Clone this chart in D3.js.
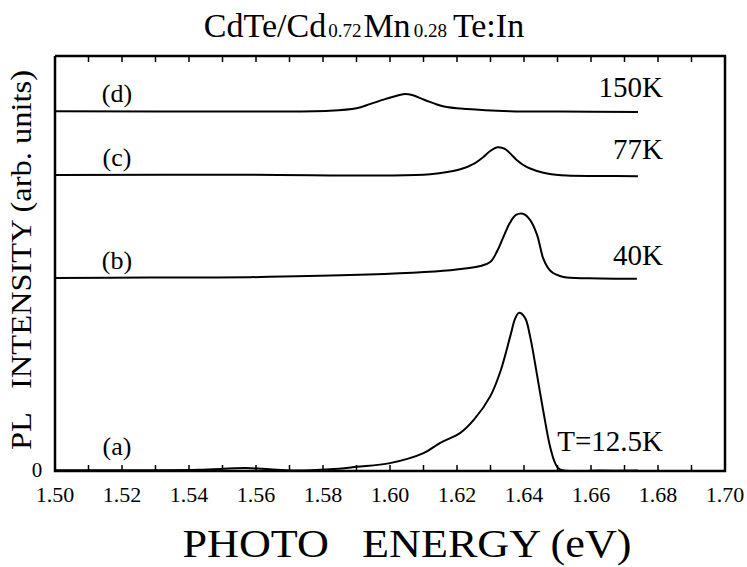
<!DOCTYPE html>
<html>
<head>
<meta charset="utf-8">
<script src="https://cdn.jsdelivr.net/npm/d3@7"></script>
<style>
  body { margin: 0; background: #fff; }
  svg { display: block; }
  svg text { font-family: "Liberation Serif", "Times New Roman", serif; fill: #000; white-space: pre; }
</style>
</head>
<body>
<div class="chart"></div>
<script>
var svgWidth = 747;
var svgHeight = 567;

// plot box in page pixels
var margin = { top: 56, right: 22, bottom: 96, left: 55 };
var width = svgWidth - margin.left - margin.right;
var height = svgHeight - margin.top - margin.bottom;

// (a) T=12.5K
var energyA = [1.500, 1.528, 1.543, 1.557, 1.564, 1.571, 1.582, 1.590, 1.600, 1.610, 1.615, 1.621, 1.625,
  1.630, 1.633, 1.636, 1.6373, 1.6385, 1.6403, 1.6418, 1.6439, 1.6457, 1.6478, 1.6493, 1.6507, 1.6627, 1.674];
var intensityA = [0.2, 0.2, 0.3, 0.7, 0.4, 0.1, 0.4, 1.0, 1.9, 4.3, 6.8, 9.2, 12.3,
  18.1, 24.1, 32.8, 36.6, 38.1, 36.9, 32.5, 23.1, 14.7, 5.8, 1.9, 0.4, 0.1, 0.1];

// (b) 40K
var energyB = [1.500, 1.528, 1.558, 1.588, 1.618, 1.627, 1.630, 1.632, 1.6337, 1.6358, 1.6376, 1.6397,
  1.6418, 1.6439, 1.6457, 1.6472, 1.6487, 1.6507, 1.6528, 1.6627, 1.6737];
var intensityB = [0, 0.1, 0.2, 0.7, 1.9, 2.9, 3.9, 6.5, 9.6, 13.3, 15.2, 15.5,
  14.0, 10.4, 4.8, 2.4, 1.2, 0.5, 0.1, -0.1, -0.2];

// (c) 77K
var energyC = [1.500, 1.558, 1.597, 1.612, 1.621, 1.6254, 1.6278, 1.6299, 1.6322, 1.6343, 1.6364,
  1.6379, 1.6409, 1.6439, 1.6469, 1.6528, 1.6627, 1.674];
var intensityC = [0, 0.1, -0.1, 0.2, 1.4, 2.9, 4.3, 5.8, 6.7, 6.3, 4.8,
  3.6, 1.9, 1.0, 0.4, -0.1, -0.2, -0.3];

// (d) 150K
var energyD = [1.500, 1.558, 1.582, 1.590, 1.594, 1.5985, 1.6015, 1.6039, 1.6066, 1.6104, 1.6158,
  1.623, 1.6358, 1.6507, 1.674];
var intensityD = [0, -0.1, 0.1, 0.7, 1.7, 2.9, 3.6, 4.1, 3.9, 2.7, 1.2,
  0.5, 0, -0.1, -0.2];

var curveNames = ["(a)", "(b)", "(c)", "(d)"];
var tempLabels = ["T=12.5K", "40K", "77K", "150K"];
var curveOffsets = [0, 46.5, 71.3, 86.7];

var xTicks = [1.50, 1.52, 1.54, 1.56, 1.58, 1.60, 1.62, 1.64, 1.66, 1.68, 1.70];

var series = [
  { e: energyA, v: intensityA },
  { e: energyB, v: intensityB },
  { e: energyC, v: intensityC },
  { e: energyD, v: intensityD }
];

var serif = "'Liberation Serif', 'Times New Roman', serif";

var svg = d3.select(".chart")
  .append("svg")
  .attr("width", svgWidth)
  .attr("height", svgHeight)
  .attr("font-family", serif);

var chart = svg.append("g")
  .attr("transform", "translate(" + margin.left + "," + margin.top + ")");

var xScale = d3.scaleLinear().domain([1.50, 1.70]).range([0, width]);
var yScale = d3.scaleLinear().domain([0, 100]).range([height, 0]);

var line = d3.line()
  .curve(d3.curveCatmullRom.alpha(0.5));

series.forEach(function(s, i) {
  var pts = s.e.map(function(e, j) {
    return [xScale(e), yScale(s.v[j] + curveOffsets[i])];
  });
  chart.append("path")
    .attr("d", line(pts))
    .attr("fill", "none")
    .attr("stroke", "#000")
    .attr("stroke-width", 2);
});

// frame box from the scale extents
var x0 = xScale(1.50), x1 = xScale(1.70), y0 = yScale(0), y1 = yScale(100);
chart.append("path")
  .attr("d", d3.line()([[x0, y1], [x1, y1], [x1, y0], [x0, y0], [x0, y1]]))
  .attr("fill", "none")
  .attr("stroke", "#000")
  .attr("stroke-width", 2.5);

// inward ticks every 0.01 on top and bottom
var minor = d3.range(1.50, 1.7001, 0.01);
var tickPath = minor.map(function(e) {
  var x = xScale(e);
  return "M" + x + "," + y0 + "V" + (y0 - 6) + "M" + x + "," + y1 + "V" + (y1 + 6);
}).join("");
chart.append("path")
  .attr("d", tickPath)
  .attr("fill", "none")
  .attr("stroke", "#000")
  .attr("stroke-width", 1.5);

// tick labels
chart.selectAll(".xlab")
  .data(xTicks)
  .enter().append("text")
    .attr("class", "xlab")
    .attr("x", function(d) { return xScale(d); })
    .attr("y", height + 31)
    .attr("text-anchor", "middle")
    .attr("font-family", serif)
    .style("font-size", "22px")
    .text(function(d) { return d3.format(".2f")(d); });

chart.append("text")
  .attr("x", -18)
  .attr("y", yScale(0) + 6)
  .attr("text-anchor", "middle")
  .attr("font-family", serif)
  .style("font-size", "21px")
  .text("0");

// curve labels
var nameY = [-16, -9, -9, -9];
chart.selectAll(".cname")
  .data(curveNames)
  .enter().append("text")
    .attr("class", "cname")
    .attr("x", xScale(1.5185))
    .attr("y", function(d, i) { return yScale(curveOffsets[i]) + nameY[i]; })
    .attr("text-anchor", "middle")
    .attr("font-family", serif)
    .style("font-size", "26px")
    .text(function(d) { return d; });

var tempY = [-20, -13, -16, -14];
chart.selectAll(".tlab")
  .data(tempLabels)
  .enter().append("text")
    .attr("class", "tlab")
    .attr("x", xScale(1.6815))
    .attr("y", function(d, i) { return yScale(curveOffsets[i]) + tempY[i]; })
    .attr("text-anchor", "end")
    .attr("font-family", serif)
    .style("font-size", "29px")
    .text(function(d) { return d; });

// title
var title = svg.append("text")
  .attr("x", 364)
  .attr("y", 37)
  .attr("text-anchor", "middle")
  .attr("font-family", serif)
  .style("font-size", "34px");
title.append("tspan").text("CdTe/Cd");
title.append("tspan").style("font-size", "19px").attr("dx", 2).text("0.72");
title.append("tspan").attr("dx", 2).text("Mn");
title.append("tspan").style("font-size", "19px").attr("dx", 3).text("0.28");
title.append("tspan").attr("dx", 6).text("Te:In");

// axis titles
svg.append("text")
  .attr("x", 407)
  .attr("y", 557)
  .attr("text-anchor", "middle")
  .attr("textLength", 449)
  .attr("lengthAdjust", "spacingAndGlyphs")
  .attr("font-family", serif)
  .style("font-size", "39px")
  .text("PHOTO   ENERGY (eV)");

svg.append("text")
  .attr("transform", "translate(31," + 260 + ") rotate(-90)")
  .attr("text-anchor", "middle")
  .attr("textLength", 380)
  .attr("lengthAdjust", "spacingAndGlyphs")
  .attr("font-family", serif)
  .style("font-size", "29px")
  .text("PL   INTENSITY (arb. units)");
</script>
</body>
</html>
